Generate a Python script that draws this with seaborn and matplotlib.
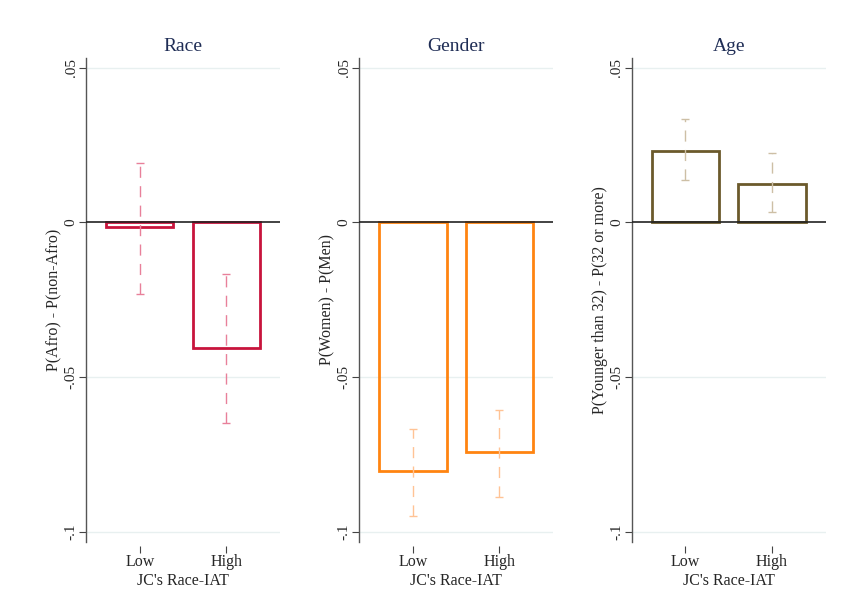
import numpy as np
import pandas as pd
import matplotlib
matplotlib.use("Agg")
import matplotlib.pyplot as plt
import seaborn as sns

# Estimated differences in probabilities by JC's Race-IAT group
groups = ["Low", "High"]

race_est = [-0.0016, -0.0406]
race_lo = [-0.0232, -0.0650]
race_hi = [0.0191, -0.0167]

gender_est = [-0.0804, -0.0742]
gender_lo = [-0.0949, -0.0887]
gender_hi = [-0.0669, -0.0607]

age_est = [0.0231, 0.0124]
age_lo = [0.0136, 0.0032]
age_hi = [0.0334, 0.0223]

yticks = [0.05, 0, -0.05, -0.1]
ytick_labels = [".05", "0", "-.05", "-.1"]

sns.set_theme(style="white")
plt.rcParams["font.family"] = ["Liberation Serif", "DejaVu Serif"]

fig = plt.figure(figsize=(8.45, 6.11), dpi=100)

panels = [
    ("Race", "P(Afro) - P(non-Afro)", race_est, race_lo, race_hi,
     "#c8143c", "#e8809a", 0.1018),
    ("Gender", "P(Women) - P(Men)", gender_est, gender_lo, gender_hi,
     "#ff8411", "#ffc395", 0.4249),
    ("Age", "P(Younger than 32) - P(32 or more)", age_est, age_lo, age_hi,
     "#6b5a2b", "#cdbfa5", 0.7476),
]

for title, ylabel, est, lo, hi, edge, err_col, left in panels:
    ax = fig.add_axes([left, 0.1134, 0.2296, 0.7917])
    df = pd.DataFrame({"group": groups, "value": est})
    sns.barplot(data=df, x="group", y="value", order=groups, ax=ax,
                fill=False, color=edge, linewidth=2.0, width=0.78,
                errorbar=None)
    for p in ax.patches:
        p.set_edgecolor(edge)
        p.set_linewidth(2.0)

    est_a = np.array(est)
    yerr = np.vstack([est_a - np.array(lo), np.array(hi) - est_a])
    eb = ax.errorbar(np.arange(len(groups)), est_a, yerr=yerr, fmt="none",
                     ecolor=err_col, elinewidth=1.0, capsize=3,
                     capthick=1.0, zorder=3)
    for lc in eb[2]:
        lc.set_linestyle((0, (8, 6)))

    ax.set_xlim(-0.62, 1.62)
    ax.set_ylim(-0.1032, 0.0531)
    ax.set_yticks(yticks)
    ax.set_yticklabels(ytick_labels, rotation=90, va="center", fontsize=11)
    for yv in [0.05, -0.05, -0.1]:
        ax.axhline(yv, color="#e8f0f0", lw=1.0, zorder=0)
    ax.axhline(0, color="#222222", lw=1.2, zorder=4)

    ax.set_title(title, fontsize=14, color="#1f2d55", pad=5)
    ax.set_ylabel(ylabel, fontsize=11.5, labelpad=1.5)
    ax.set_xlabel("JC's Race-IAT", fontsize=11.5, labelpad=2)
    ax.tick_params(axis="x", bottom=True, length=5, width=0.8,
                   color="#444444", labelsize=11.5, pad=1, direction="out")
    ax.tick_params(axis="y", left=True, length=5, width=0.8,
                   color="#444444", pad=1)
    sns.despine(ax=ax, top=True, right=True, bottom=True)
    ax.spines["left"].set_color("#555555")
    ax.spines["left"].set_linewidth(1.0)
    # offset the x tick marks below the plot region
    ax.spines["bottom"].set_position(("outward", 3))

fig.savefig("out.png", dpi=100)
